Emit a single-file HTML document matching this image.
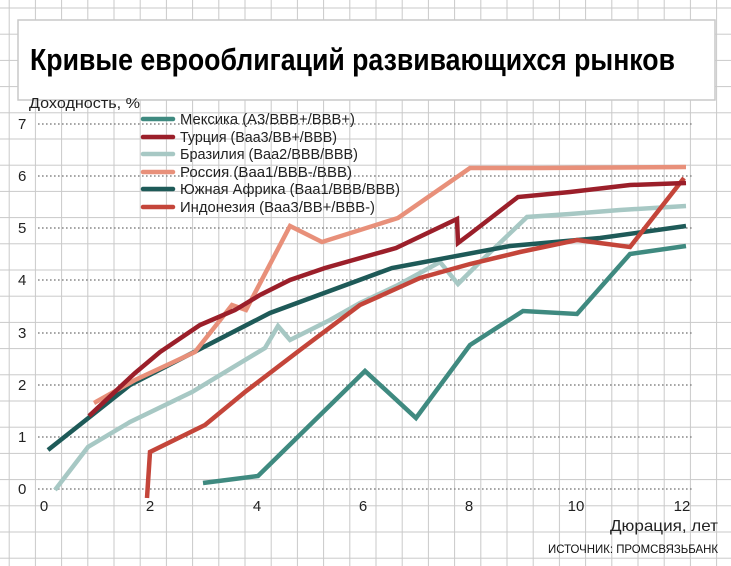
<!DOCTYPE html>
<html><head><meta charset="utf-8"><style>
html,body{margin:0;padding:0;background:#fff}
svg{display:block}
text{font-family:"Liberation Sans Narrow","Liberation Sans",sans-serif}
</style></head><body>
<svg width="731" height="566" viewBox="0 0 731 566" xmlns="http://www.w3.org/2000/svg">
<defs>
<pattern id="g" x="8.7" y="7.5" width="26.2" height="26.2" patternUnits="userSpaceOnUse">
<path d="M0 0V26.2M0 0H26.2" stroke="#c9c9c9" stroke-width="2" fill="none"/>
</pattern>
</defs>
<rect width="731" height="566" fill="#fff"/>
<rect x="0" y="0" width="731" height="566" fill="url(#g)"/>
<rect x="18" y="20" width="697" height="80" fill="#fff" stroke="#c9c9c9" stroke-width="1.5"/>
<text x="30" y="70" font-size="31" font-weight="bold" textLength="645" lengthAdjust="spacingAndGlyphs">Кривые еврооблигаций развивающихся рынков</text>
<text x="29" y="108" font-size="15" fill="#222" textLength="111" lengthAdjust="spacingAndGlyphs">Доходность, %</text>
<g stroke="#888" stroke-width="1.6" stroke-dasharray="1.6 2.4">
<line x1="38" y1="124" x2="694" y2="124"/>
<line x1="38" y1="176" x2="694" y2="176"/>
<line x1="38" y1="228" x2="694" y2="228"/>
<line x1="38" y1="280" x2="694" y2="280"/>
<line x1="38" y1="333" x2="694" y2="333"/>
<line x1="38" y1="385" x2="694" y2="385"/>
<line x1="38" y1="437" x2="694" y2="437"/>
<line x1="38" y1="489" x2="694" y2="489"/>
</g>
<g font-size="15" fill="#222">
<text x="18" y="129">7</text><text x="18" y="181">6</text><text x="18" y="233">5</text><text x="18" y="285">4</text>
<text x="18" y="338">3</text><text x="18" y="390">2</text><text x="18" y="442">1</text><text x="18" y="494">0</text>
</g>
<g font-size="15" fill="#222" text-anchor="middle">
<text x="44" y="511">0</text><text x="150" y="511">2</text><text x="257" y="511">4</text><text x="363" y="511">6</text>
<text x="469" y="511">8</text><text x="576" y="511">10</text><text x="682" y="511">12</text>
</g>
<text x="610" y="531" font-size="16" fill="#222" textLength="108" lengthAdjust="spacingAndGlyphs">Дюрация, лет</text>
<text x="548" y="553" font-size="12" fill="#111" textLength="170" lengthAdjust="spacingAndGlyphs">ИСТОЧНИК: ПРОМСВЯЗЬБАНК</text>
<g fill="none" stroke-width="4.5" stroke-linejoin="miter" stroke-linecap="butt">
<polyline stroke="#a7c8c4" points="55,490 88,447 130,422 192,392 265,348 278,326 290,340 330,320 360,303 398,285 440,262 458,284 480,262 527,217 570,214 620,210 686,206"/>
<polyline stroke="#3f8a80" points="203,483 258,476 365,371 416,418 470,345 523,311 577,314 630,254 686,246"/>
<polyline stroke="#1e5a58" points="48,450 130,385 270,313 392,268 510,246 600,238 686,226"/>
<polyline stroke="#c4453a" points="147,498 150,452 205,425 245,392 300,350 360,305 420,278 470,264 520,252 577,240 630,247 684,178"/>
<polyline stroke="#e8907a" points="94,403 135,380 195,352 232,305 246,310 290,226 322,242 398,218 470,168 540,168 686,167"/>
<polyline stroke="#9b1f2a" points="89,416 135,373 160,352 200,325 235,310 260,295 290,280 325,268 396,248 457,219 458,243 470,234 518,197 570,192 630,185 686,183"/>
</g>
<g stroke-width="4.5" stroke-linecap="round">
<line x1="143" y1="119" x2="173" y2="119" stroke="#3f8a80"/>
<line x1="143" y1="137" x2="173" y2="137" stroke="#9b1f2a"/>
<line x1="143" y1="154" x2="173" y2="154" stroke="#a7c8c4"/>
<line x1="143" y1="172" x2="173" y2="172" stroke="#e8907a"/>
<line x1="143" y1="189" x2="173" y2="189" stroke="#1e5a58"/>
<line x1="143" y1="207" x2="173" y2="207" stroke="#c4453a"/>
</g>
<g font-size="15" fill="#222" lengthAdjust="spacingAndGlyphs">
<text x="180" y="124" textLength="175" lengthAdjust="spacingAndGlyphs">Мексика (А3/ВВВ+/ВВВ+)</text>
<text x="180" y="142" textLength="157" lengthAdjust="spacingAndGlyphs">Турция (Ваа3/ВВ+/ВВВ)</text>
<text x="180" y="159" textLength="178" lengthAdjust="spacingAndGlyphs">Бразилия (Ваа2/ВВВ/ВВВ)</text>
<text x="180" y="177" textLength="172" lengthAdjust="spacingAndGlyphs">Россия (Ваа1/ВВВ-/ВВВ)</text>
<text x="180" y="194" textLength="220" lengthAdjust="spacingAndGlyphs">Южная Африка (Ваа1/ВВВ/ВВВ)</text>
<text x="180" y="212" textLength="195" lengthAdjust="spacingAndGlyphs">Индонезия (Ваа3/ВВ+/ВВВ-)</text>
</g>
</svg>
</body></html>
